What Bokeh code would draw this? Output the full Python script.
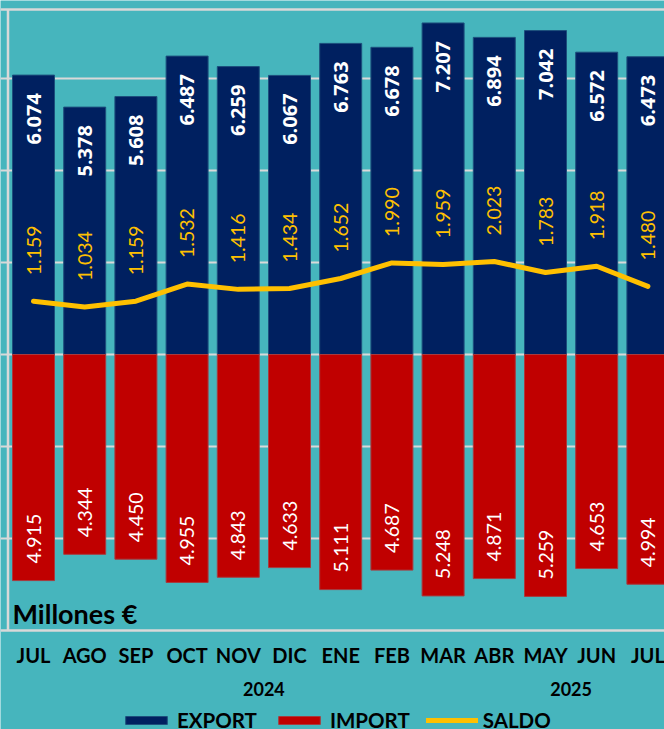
import math
from bokeh.plotting import figure
from bokeh.models import Range1d, FixedTicker, Span, Label, Legend, LegendItem, ColumnDataSource
from bokeh.embed import file_html
from bokeh.resources import INLINE
from bokeh.core.properties import value

# ---- data ----
months = ["JUL", "AGO", "SEP", "OCT", "NOV", "DIC", "ENE", "FEB", "MAR", "ABR", "MAY", "JUN", "JUL"]
export_vals = [6.074, 5.378, 5.608, 6.487, 6.259, 6.067, 6.763, 6.678, 7.207, 6.894, 7.042, 6.572, 6.473]
import_vals = [4.915, 4.344, 4.450, 4.955, 4.843, 4.633, 5.111, 4.687, 5.248, 4.871, 5.259, 4.653, 4.994]
saldo_vals = [1.159, 1.034, 1.159, 1.532, 1.416, 1.434, 1.652, 1.990, 1.959, 2.023, 1.783, 1.918, 1.480]
years = ["2024", "2025"]
year_pos = [4.5, 10.5]
grid_ticks = [-4, -2, 0, 2, 4, 6]
y_top, y_bottom = 7.5, -6.0   # plot-area frame

# ---- styles / layout ----
BG = "#46b5bd"
NAVY = "#002060"
RED = "#c00000"
YELLOW = "#ffc000"
GRID = "#d9d9d9"
FONT = "Lato"
W, H = 664, 729
PXY = 46.0     # px per y unit
PXX = 51.2     # px per category
X0PIX = 33.0   # pixel of first category
Y0PIX = 354.0  # pixel of zero line


def dy(pix):  # data y for a pixel row
    return (Y0PIX - pix) / PXY


def dx(pix):  # data x for a pixel column
    return (pix - X0PIX) / PXX


xs = list(range(len(months)))
src = ColumnDataSource(dict(
    x=xs,
    exp=export_vals,
    imp=[-v for v in import_vals],
    sal=saldo_vals,
    exp_lbl=[f"{v:.3f}" for v in export_vals],
    imp_lbl=[f"{v:.3f}" for v in import_vals],
    sal_lbl=[f"{v:.3f}" for v in saldo_vals],
    exp_y=[v - 18 / PXY for v in export_vals],
    imp_y=[-v + 17 / PXY for v in import_vals],
    sal_y=[v + 26 / PXY for v in saldo_vals],
))

p = figure(width=W, height=H, output_backend="svg", toolbar_location=None,
           x_range=Range1d(dx(0), dx(W)), y_range=Range1d(dy(H), dy(0)),
           x_axis_location=None, y_axis_location=None,
           min_border_left=0, min_border_right=0, min_border_top=0, min_border_bottom=0)
p.background_fill_color = BG
p.border_fill_color = BG
p.outline_line_color = None

p.xgrid.visible = False
p.ygrid.ticker = FixedTicker(ticks=grid_ticks)
p.ygrid.grid_line_color = GRID
p.ygrid.grid_line_width = 2

# plot-area frame lines
p.add_layout(Span(location=y_top, dimension="width", line_color=GRID, line_width=2.5))
p.add_layout(Span(location=y_bottom, dimension="width", line_color=GRID, line_width=2.5))
p.segment(x0=[dx(7.5)], y0=[y_bottom], x1=[dx(7.5)], y1=[y_top], line_color=GRID, line_width=2.5)

r_exp = p.vbar(x="x", top="exp", bottom=0, width=0.82, source=src,
               fill_color=NAVY, line_color="#1d4f7c", line_width=1)
r_imp = p.vbar(x="x", top=0, bottom="imp", width=0.82, source=src,
               fill_color=RED, line_color="#a83a3e", line_width=1)
r_sal = p.line(x="x", y="sal", source=src, line_color=YELLOW, line_width=5,
               line_cap="round", line_join="round")

p.text(x="x", y="exp_y", text="exp_lbl", source=src, angle=math.pi / 2,
       text_align="right", text_baseline="middle", text_color="white",
       text_font=value("Open Sans"), text_font_style="bold", text_font_size="20px")
p.text(x="x", y="imp_y", text="imp_lbl", source=src, angle=math.pi / 2,
       text_align="left", text_baseline="middle", text_color="white",
       text_font=value(FONT), text_font_size="19.5px")
p.text(x="x", y="sal_y", text="sal_lbl", source=src, angle=math.pi / 2,
       text_align="left", text_baseline="middle", text_color=YELLOW,
       text_font=value(FONT), text_font_size="19.5px")

# category labels (months) and year labels
p.text(x=xs, y=[dy(654)] * len(xs), text=months, text_align="center", text_baseline="middle",
       text_color="#000000", text_font=value(FONT), text_font_style="bold", text_font_size="20px")
p.text(x=year_pos, y=[dy(688.5)] * len(years), text=years, text_align="center",
       text_baseline="middle", text_color="#000000", text_font=value(FONT),
       text_font_style="bold", text_font_size="18px")

p.add_layout(Label(x=dx(12), y=dy(613), text="Millones €", text_align="left",
                   text_baseline="alphabetic", text_font=FONT, text_font_style="bold",
                   text_font_size="27px", text_color="#000000"))

legend = Legend(items=[LegendItem(label="EXPORT", renderers=[r_exp]),
                       LegendItem(label="IMPORT", renderers=[r_imp]),
                       LegendItem(label="SALDO", renderers=[r_sal])],
                orientation="horizontal", location=(120, -3),
                glyph_width=52, glyph_height=10, label_standoff=5, spacing=16,
                padding=0, margin=0, background_fill_alpha=0, border_line_color=None,
                label_text_font=FONT, label_text_font_style="bold",
                label_text_font_size="20.5px", label_text_color="#000000")
p.add_layout(legend)

open("out.html", "w").write(file_html(p, INLINE))
